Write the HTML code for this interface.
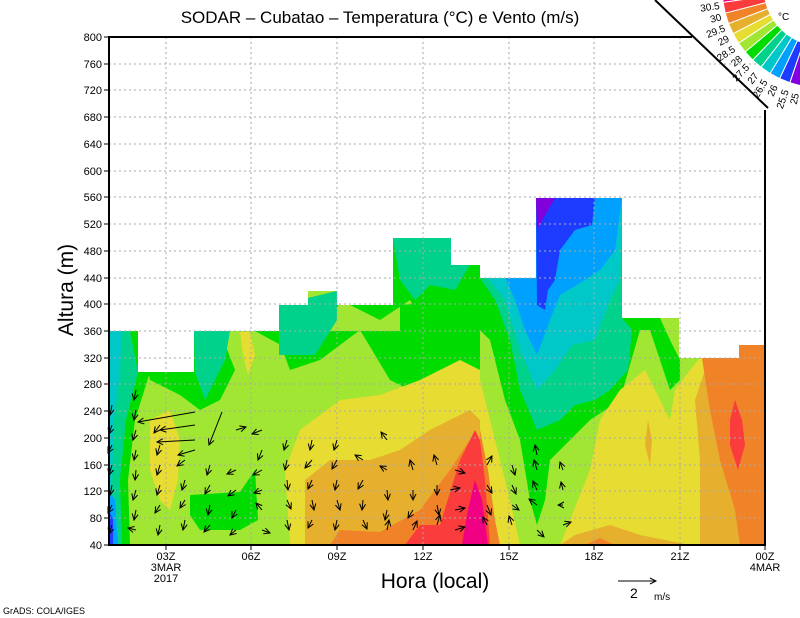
<!DOCTYPE html>
<html><head><meta charset="utf-8"><style>
body{margin:0;background:#fff}
svg{display:block}
text{font-family:"Liberation Sans",sans-serif;fill:#000}
</style></head><body>
<svg width="800" height="618" viewBox="0 0 800 618" xmlns="http://www.w3.org/2000/svg">
<defs>
<clipPath id="d"><path d="M109,545 L109,331 L138,331 L138,372 L194,372 L194,331 L279,331 L279,305 L308,305 L308,291 L337,291 L337,305 L393,305 L393,238 L451,238 L451,265 L480,265 L480,278 L536,278 L536,198 L622,198 L622,318 L679,318 L679,358 L739,358 L739,345 L765,345 L765,545 Z"/></clipPath>
<marker id="h" markerWidth="8" markerHeight="8" refX="7" refY="4" orient="auto" markerUnits="userSpaceOnUse"><path d="M1,1 L7,4 L1,7" fill="none" stroke="#000" stroke-width="1"/></marker>
</defs>
<g clip-path="url(#d)">
<rect x="109" y="190" width="656" height="360" fill="#a0e632"/>
<path d="M109,331 L140,331 L150,372 L135,420 L128,480 L130,545 L109,545 Z" fill="#00dc00"/>
<path d="M109,331 L130,331 L138,372 L126,420 L120,480 L122,545 L109,545 Z" fill="#00d28c"/>
<path d="M109,331 L122,331 L120,372 L114,420 L112,480 L109,500 Z" fill="#00c8c8"/>
<path d="M109,490 L115,500 L118,545 L109,545 Z" fill="#00a0ff"/>
<path d="M109,510 L113,520 L113,545 L109,545 Z" fill="#1e3cff"/>
<path d="M140,331 L220,331 L235,370 L220,400 L200,410 L180,395 L150,380 Z" fill="#00dc00"/>
<path d="M194,331 L230,331 L225,360 L205,400 L195,372 Z" fill="#00d28c"/>
<path d="M255,331 L400,331 L400,305 L480,300 L480,390 L430,400 L390,380 L360,330 L320,360 L290,350 Z" fill="#00dc00"/>
<path d="M279,305 L337,291 L393,305 L393,238 L451,238 L480,265 L480,330 L460,350 L430,340 L410,300 L380,320 L340,300 L320,360 L290,370 L279,340 Z" fill="#00dc00"/>
<path d="M279,305 L337,291 L337,320 L315,355 L279,355 Z" fill="#00d28c"/>
<path d="M393,238 L451,238 L451,265 L470,265 L455,290 L430,285 L415,300 L400,280 Z" fill="#00d28c"/>
<path d="M240,332 L250,332 L255,355 L248,375 L243,355 Z" fill="#e6dc32"/>
<path d="M150,420 L170,410 L180,440 L178,480 L170,510 L160,500 L150,470 Z" fill="#e6dc32"/>
<path d="M190,495 L240,492 L255,470 L258,520 L240,530 L200,530 L190,515 Z" fill="#00dc00"/>
<path d="M290,545 L285,470 L300,430 L340,400 L380,395 L420,380 L460,360 L480,370 L480,545 Z" fill="#e6dc32"/>
<path d="M305,545 L305,480 L330,460 L370,460 L400,450 L430,430 L470,410 L480,420 L480,545 Z" fill="#e6af2d"/>
<path d="M330,545 L340,530 L380,532 L420,510 L450,470 L470,440 L480,440 L480,545 Z" fill="#f08228"/>
<path d="M405,545 L420,525 L440,525 L460,460 L475,430 L480,440 L480,545 Z" fill="#fa3c3c"/>
<path d="M480,278 L536,278 L536,198 L622,198 L622,318 L679,318 L679,358 L765,358 L765,545 L480,545 Z" fill="#a0e632"/>
<path d="M480,278 L536,278 L536,198 L622,198 L622,318 L660,318 L670,340 L680,360 L680,380 L670,390 L660,360 L650,330 L640,330 L620,400 L590,420 L570,440 L550,460 L545,500 L537,525 L530,500 L520,440 L505,400 L490,340 L480,330 Z" fill="#00dc00"/>
<path d="M480,278 L536,278 L536,198 L622,198 L622,318 L632,330 L628,370 L610,390 L595,400 L575,405 L560,420 L537,430 L520,390 L510,340 L495,300 Z" fill="#00d28c"/>
<path d="M488,278 L536,278 L536,198 L622,198 L620,280 L610,300 L595,340 L572,345 L555,370 L537,390 L520,350 L505,300 Z" fill="#00c8c8"/>
<path d="M505,278 L536,278 L536,198 L622,198 L615,250 L600,270 L585,280 L560,295 L550,320 L537,355 L525,330 L515,300 Z" fill="#00a0ff"/>
<path d="M536,198 L595,198 L592,225 L575,230 L560,250 L555,280 L548,290 L545,310 L537,305 Z" fill="#1e3cff"/>
<path d="M536,198 L555,198 L545,215 L537,230 Z" fill="#8200dc"/>
<path d="M480,380 L490,420 L500,460 L510,500 L520,545 L480,545 Z" fill="#e6dc32"/>
<path d="M480,430 L488,470 L495,520 L500,545 L480,545 Z" fill="#f08228"/>
<path d="M480,440 L485,480 L490,545 L470,545 L472,480 Z" fill="#fa3c3c"/>
<path d="M475,480 L482,500 L488,545 L462,545 L468,510 Z" fill="#f00082"/>
<path d="M560,545 L590,470 L600,420 L620,390 L645,370 L660,400 L670,420 L675,390 L690,370 L700,358 L765,358 L765,545 Z" fill="#e6dc32"/>
<path d="M700,545 L700,460 L695,400 L705,370 L720,358 L765,358 L765,545 Z" fill="#e6af2d"/>
<path d="M700,345 L765,345 L765,545 L740,545 L735,510 L720,460 L710,410 Z" fill="#f08228"/>
<path d="M735,400 L742,420 L745,445 L738,470 L730,445 L730,420 Z" fill="#fa3c3c"/>
<path d="M648,420 L652,440 L650,465 L645,445 Z" fill="#e6af2d"/>
<path d="M560,545 L575,535 L610,525 L640,535 L690,545 Z" fill="#e6af2d"/>
<path d="M585,545 L600,538 L615,545 Z" fill="#f08228"/>
</g>
<g stroke="#aaa" stroke-width="1" stroke-dasharray="2,3">
<path d="M109,518H765M109,491H765M109,465H765M109,438H765M109,411H765M109,384H765M109,358H765M109,331H765M109,304H765M109,278H765M109,251H765M109,224H765M109,197H765M109,171H765M109,144H765M109,117H765M109,90H765M109,64H765"/>
<path d="M166,37V545M251,37V545M337,37V545M423,37V545M509,37V545M594,37V545M680,37V545"/>
</g>
<g stroke="#000" stroke-width="1" fill="none" marker-end="url(#h)">
<path d="M112,405l-2,10"/><path d="M112,425l-3,9"/><path d="M112,445l-4,8"/><path d="M112,465l-3,10"/><path d="M112,485l-2,10"/><path d="M112,505l-4,8"/><path d="M112,525l-3,9"/>
<path d="M136,390l-2,10"/><path d="M136,410l-2,10"/><path d="M136,430l-3,10"/><path d="M136,450l-2,10"/><path d="M136,470l-1,10"/><path d="M136,490l-3,10"/><path d="M136,510l-2,10"/><path d="M136,530l-8,-2"/>
<path d="M195,412l-57,10"/><path d="M195,425l-35,5"/><path d="M195,440l-38,2"/><path d="M195,450l-17,5"/><path d="M222,412l-13,33"/>
<path d="M160,425l-6,8"/><path d="M160,445l-3,10"/><path d="M160,465l-3,10"/><path d="M160,485l-3,10"/><path d="M160,505l-5,8"/><path d="M160,525l-2,10"/>
<path d="M185,460l-8,6"/><path d="M185,480l-3,10"/><path d="M185,500l-5,8"/><path d="M185,520l-2,10"/>
<path d="M210,465l-3,10"/><path d="M210,485l-5,9"/><path d="M210,505l-2,10"/><path d="M210,525l-6,7"/>
<path d="M236,430l10,-3"/><path d="M236,470l-9,4"/><path d="M236,490l-8,6"/><path d="M236,510l-4,8"/><path d="M236,530l-6,5"/>
<path d="M262,430l-10,4"/><path d="M262,450l-4,10"/><path d="M262,470l-9,5"/><path d="M262,490l-8,3"/><path d="M262,510l-6,-7"/><path d="M262,530l8,3"/>
<path d="M287,440l-3,10"/><path d="M287,460l-2,10"/><path d="M287,480l1,10"/><path d="M287,500l4,9"/><path d="M287,520l2,10"/>
<path d="M312,440l-2,10"/><path d="M312,460l-7,8"/><path d="M312,480l-4,9"/><path d="M312,500l2,10"/><path d="M312,520l-4,8"/>
<path d="M337,440l-3,10"/><path d="M337,460l-5,9"/><path d="M337,480l-2,10"/><path d="M337,500l3,10"/><path d="M337,520l-2,10"/>
<path d="M363,460l-8,-5"/><path d="M363,480l-5,9"/><path d="M363,500l-1,10"/><path d="M363,520l4,9"/>
<path d="M387,440l-6,-8"/><path d="M387,470l-7,-4"/><path d="M387,490l1,10"/><path d="M387,510l-2,10"/><path d="M387,530l2,-10"/>
<path d="M413,470l-3,-10"/><path d="M413,490l0,10"/><path d="M413,510l-5,8"/><path d="M413,530l4,-9"/>
<path d="M437,465l-3,-10"/><path d="M437,485l0,10"/><path d="M437,505l2,10"/><path d="M437,525l3,-10"/>
<path d="M455,470l10,3"/><path d="M450,490l10,-2"/><path d="M455,510l10,-2"/><path d="M455,530l10,-3"/>
<path d="M487,465l5,-9"/><path d="M487,485l5,8"/><path d="M487,505l4,10"/><path d="M487,525l-4,-8"/>
<path d="M512,465l3,10"/><path d="M512,485l4,9"/><path d="M512,505l7,5"/><path d="M512,525l-3,-9"/>
<path d="M537,455l-2,-10"/><path d="M537,470l-3,-10"/><path d="M537,490l-4,-9"/><path d="M537,505l-8,-6"/><path d="M537,530l7,7"/>
<path d="M563,470l-3,-8"/><path d="M563,490l-2,-8"/><path d="M563,505l-5,0"/><path d="M563,525l8,-3"/>
</g>
<path d="M692,37 H109 V545 H765 V110" stroke="#000" stroke-width="2" fill="none"/>
<path d="M655,0 L768,108" stroke="#000" stroke-width="2"/>
<g stroke="#000" stroke-width="1"><path d="M104,37h5M104,64h5M104,90h5M104,117h5M104,144h5M104,171h5M104,197h5M104,224h5M104,251h5M104,278h5M104,304h5M104,331h5M104,358h5M104,384h5M104,411h5M104,438h5M104,465h5M104,491h5M104,518h5M104,545h5M166,545v5M251,545v5M337,545v5M423,545v5M509,545v5M594,545v5M680,545v5M765,545v5"/></g>
<g font-size="11" text-anchor="end">
<text x="102" y="41">800</text><text x="102" y="68">760</text><text x="102" y="94">720</text><text x="102" y="121">680</text><text x="102" y="148">640</text><text x="102" y="175">600</text><text x="102" y="201">560</text><text x="102" y="228">520</text><text x="102" y="255">480</text><text x="102" y="282">440</text><text x="102" y="308">400</text><text x="102" y="335">360</text><text x="102" y="362">320</text><text x="102" y="388">280</text><text x="102" y="415">240</text><text x="102" y="442">200</text><text x="102" y="469">160</text><text x="102" y="495">120</text><text x="102" y="522">80</text><text x="102" y="549">40</text>
</g>
<g font-size="11" text-anchor="middle">
<text x="166" y="560">03Z</text><text x="166" y="571">3MAR</text><text x="166" y="582">2017</text>
<text x="251" y="560">06Z</text><text x="337" y="560">09Z</text><text x="423" y="560">12Z</text><text x="509" y="560">15Z</text><text x="594" y="560">18Z</text><text x="680" y="560">21Z</text><text x="765" y="560">00Z</text><text x="765" y="571">4MAR</text>
</g>
<text x="380" y="23" font-size="17" text-anchor="middle">SODAR – Cubatao – Temperatura (°C) e Vento (m/s)</text>
<text x="435" y="588" font-size="21" text-anchor="middle">Hora (local)</text>
<text transform="translate(73,290) rotate(-90)" font-size="21" text-anchor="middle">Altura (m)</text>
<text x="3" y="614" font-size="9">GrADS: COLA/IGES</text>
<path d="M618,581 H656 M650,578 L656,581 L650,584" stroke="#000" fill="none"/>
<text x="630" y="598" font-size="14">2</text><text x="654" y="600" font-size="10">m/s</text>
<g stroke="#fff" stroke-width="1">
<path d="M764,-10 L722.1,-8.5 L723.1,2.4 L764.6,-3.6Z" fill="#f00082"/>
<path d="M764.6,-3.6 L723.1,2.4 L725.2,13.2 L765.9,2.6Z" fill="#fa3c3c"/>
<path d="M765.9,2.6 L725.2,13.2 L728.6,23.7 L767.8,8.7Z" fill="#f08228"/>
<path d="M767.8,8.7 L728.6,23.7 L733.1,33.7 L770.4,14.5Z" fill="#e6af2d"/>
<path d="M770.4,14.5 L733.1,33.7 L738.6,43.2 L773.6,20Z" fill="#e6dc32"/>
<path d="M773.6,20 L738.6,43.2 L745.2,52 L777.4,25.1Z" fill="#a0e632"/>
<path d="M777.4,25.1 L745.2,52 L752.7,60.1 L781.8,29.8Z" fill="#00dc00"/>
<path d="M781.8,29.8 L752.7,60.1 L761,67.2 L786.6,34Z" fill="#00d28c"/>
<path d="M786.6,34 L761,67.2 L770.1,73.5 L791.9,37.6Z" fill="#00c8c8"/>
<path d="M791.9,37.6 L770.1,73.5 L779.7,78.6 L797.5,40.6Z" fill="#00a0ff"/>
<path d="M797.5,40.6 L779.7,78.6 L789.9,82.7 L803.4,42.9Z" fill="#1e3cff"/>
<path d="M803.4,42.9 L789.9,82.7 L800.5,85.7 L809.5,44.6Z" fill="#8200dc"/>
</g>
<g font-size="10" text-anchor="end">
<text transform="translate(720,9) rotate(-8)">30.5</text>
<text transform="translate(722,20) rotate(-15)">30</text>
<text transform="translate(726,31) rotate(-21)">29.5</text>
<text transform="translate(730,41) rotate(-27)">29</text>
<text transform="translate(736,51) rotate(-33)">28.5</text>
<text transform="translate(743,60) rotate(-40)">28</text>
<text transform="translate(750,68) rotate(-46)">27.5</text>
<text transform="translate(759,76) rotate(-52)">27</text>
<text transform="translate(768,82) rotate(-59)">26.5</text>
<text transform="translate(778,87) rotate(-65)">26</text>
<text transform="translate(789,91) rotate(-71)">25.5</text>
<text transform="translate(799,94) rotate(-78)">25</text>
</g>
<text x="778" y="20" font-size="10">°C</text>
</svg>
</body></html>
